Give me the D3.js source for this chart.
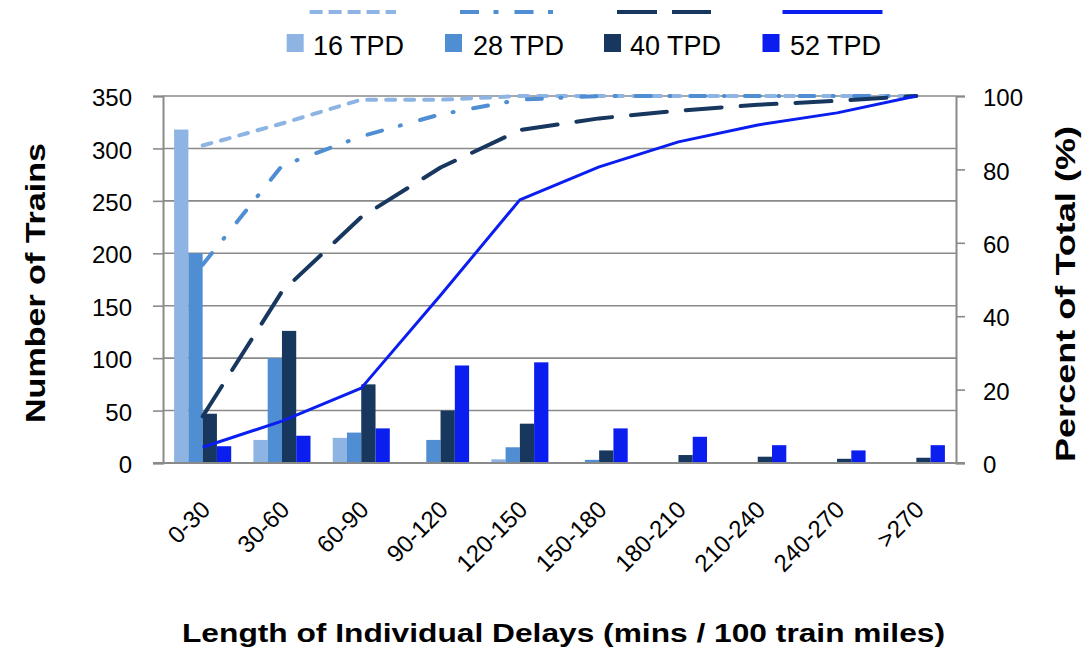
<!DOCTYPE html>
<html>
<head>
<meta charset="utf-8">
<script src="https://cdn.jsdelivr.net/npm/d3@7"></script>
<style>
  html, body { margin: 0; padding: 0; background: #fff; }
  svg { display: block; font-family: "Liberation Sans", Arial, sans-serif; }
</style>
</head>
<body>
<svg id="chart" width="1089" height="653"></svg>
<script>
// ---- data ----
const categories = ["0-30", "30-60", "60-90", "90-120", "120-150", "150-180", "180-210", "210-240", "240-270", ">270"];
const seriesNames = ["16 TPD", "28 TPD", "40 TPD", "52 TPD"];
const trains16 = [318, 22, 24, 0, 3.5, 0, 0, 0, 0, 0];
const trains28 = [200, 100, 29, 22, 15, 3, 0, 0, 0, 0];
const trains40 = [47, 126, 75, 50, 37.5, 12, 7.6, 6, 4, 5];
const trains52 = [16, 26, 33, 93, 96, 33, 25, 17, 12, 17];
const pct16 = [86.5, 92.5, 99, 99, 100, 100, 100, 100, 100, 100];
const pct28 = [54, 81, 89, 95, 99, 100, 100, 100, 100, 100];
const pct40 = [12.7, 46.7, 67, 80.5, 90.7, 93.9, 96, 97.6, 98.7, 100];
const pct52 = [4.3, 11.4, 20.4, 45.7, 71.7, 80.7, 87.5, 92.1, 95.4, 100];
const leftTicks = [0, 50, 100, 150, 200, 250, 300, 350];
const rightTicks = [0, 20, 40, 60, 80, 100];

// ---- styles ----
const colors = ["#8DB4E2", "#4F8ED2", "#17375E", "#0A1EF0"];
const dashes = ["9,10", "15,18.5,1,20", "36,19", null];
const lineWidths = [4, 4, 4, 3];
const gridColor = "#8a8a8a";

const svg = d3.select("#chart");
const L = 163, R = 956, T = 96, B = 463;

const x0 = d3.scaleBand().domain(categories).range([L, R]).paddingInner(0.28).paddingOuter(0.14);
const x1 = d3.scaleBand().domain(seriesNames).range([0, x0.bandwidth()]);
const yL = d3.scaleLinear().domain([0, 350]).range([B, T]);
const yR = d3.scaleLinear().domain([0, 100]).range([B, T]);

const barData = [trains16, trains28, trains40, trains52];
const pctData = [pct16, pct28, pct40, pct52];

// gridlines
svg.append("g").selectAll("line").data(leftTicks.filter(d => d > 0)).join("line")
  .attr("x1", L).attr("x2", R)
  .attr("y1", d => yL(d)).attr("y2", d => yL(d))
  .attr("stroke", gridColor).attr("stroke-width", 1.6);

// bars
seriesNames.forEach((s, si) => {
  svg.append("g").selectAll("rect").data(categories).join("rect")
    .attr("x", c => x0(c) + x1(s))
    .attr("width", x1.bandwidth())
    .attr("y", (c, i) => yL(barData[si][i]))
    .attr("height", (c, i) => B - yL(barData[si][i]))
    .attr("fill", colors[si]);
});

// lines
const lineGen = d3.line()
  .x((d, i) => x0(categories[i]) + x0.bandwidth() / 2)
  .y(d => yR(d));
pctData.forEach((arr, si) => {
  svg.append("path").datum(arr)
    .attr("d", lineGen)
    .attr("fill", "none")
    .attr("stroke", colors[si])
    .attr("stroke-width", lineWidths[si])
    .attr("stroke-linecap", dashes[si] ? "round" : "butt")
    .attr("stroke-linejoin", "round")
    .attr("stroke-dasharray", dashes[si]);
});

// axes
const leftAxis = d3.axisLeft(yL).tickValues(leftTicks).tickSize(10).tickPadding(21);
const gL = svg.append("g").attr("transform", `translate(${L},0)`).call(leftAxis);
const rightAxis = d3.axisRight(yR).tickValues(rightTicks).tickSize(9).tickPadding(18);
const gR = svg.append("g").attr("transform", `translate(${R},0)`).call(rightAxis);
[gL, gR].forEach(g => {
  g.select(".domain").attr("stroke", gridColor).attr("stroke-width", 2);
  g.selectAll(".tick line").attr("stroke", gridColor).attr("stroke-width", 1.6);
  g.selectAll(".tick text").attr("font-size", 24).attr("fill", "#000")
    .attr("font-family", "Liberation Sans, Arial, sans-serif").attr("dy", "0.4em");
});
// bottom axis line
svg.append("line").attr("x1", L - 10).attr("x2", R + 9).attr("y1", B).attr("y2", B)
  .attr("stroke", gridColor).attr("stroke-width", 2);

// x tick labels
svg.append("g").selectAll("text").data(categories).join("text")
  .attr("transform", c => `translate(${x0(c) + x0.bandwidth() / 2 + 9},511) rotate(-45)`)
  .attr("text-anchor", "end")
  .attr("font-size", 24)
  .attr("fill", "#000")
  .text(c => c);

// titles
svg.append("text")
  .attr("transform", "translate(45,283) rotate(-90)")
  .attr("text-anchor", "middle")
  .attr("font-size", 28).attr("font-weight", "bold")
  .attr("textLength", 280).attr("lengthAdjust", "spacingAndGlyphs")
  .text("Number of Trains");
svg.append("text")
  .attr("transform", "translate(1075,294) rotate(-90)")
  .attr("text-anchor", "middle")
  .attr("font-size", 28).attr("font-weight", "bold")
  .attr("textLength", 336).attr("lengthAdjust", "spacingAndGlyphs")
  .text("Percent of Total (%)");
svg.append("text")
  .attr("x", 563.5).attr("y", 642)
  .attr("text-anchor", "middle")
  .attr("font-size", 25).attr("font-weight", "bold")
  .attr("textLength", 763).attr("lengthAdjust", "spacingAndGlyphs")
  .text("Length of Individual Delays (mins / 100 train miles)");

// legend
const legSquareX = [286.7, 445, 604, 762.5];
const legTextX = [313, 473, 630, 790];
const legLineX = [[309.6, 396], [460, 553], [617, 711], [782.5, 882.5]];
const leg = svg.append("g");
seriesNames.forEach((s, si) => {
  leg.append("line")
    .attr("x1", legLineX[si][0]).attr("x2", legLineX[si][1])
    .attr("y1", 12).attr("y2", 12)
    .attr("stroke", colors[si]).attr("stroke-width", 4)
    .attr("stroke-dasharray", si === 0 ? "13,6" : si === 1 ? "19,14.5,5,16" : si === 2 ? "40,15" : null);
  leg.append("rect").attr("x", legSquareX[si]).attr("y", 34).attr("width", 17).attr("height", 18)
    .attr("fill", colors[si]);
  leg.append("text").attr("x", legTextX[si]).attr("y", 55)
    .attr("font-size", 27).attr("fill", "#000").text(s);
});
</script>
</body>
</html>
